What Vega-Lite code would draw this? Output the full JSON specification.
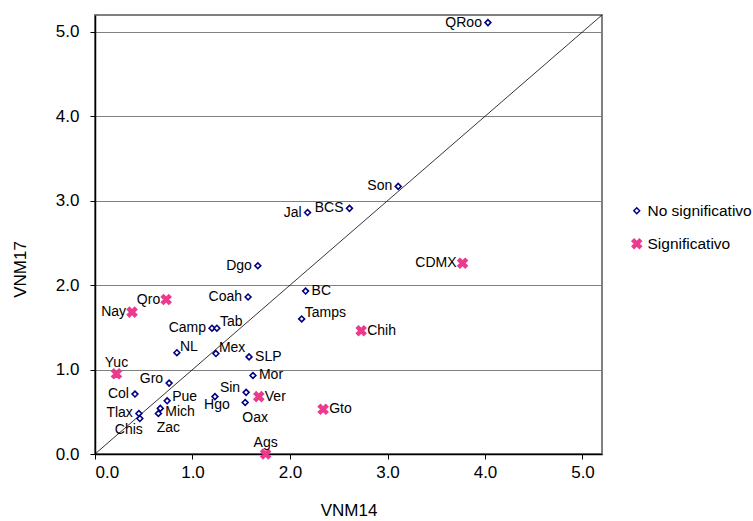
{
  "$schema": "https://vega.github.io/schema/vega-lite/v6.json",
  "width": 507,
  "height": 439,
  "autosize": "none",
  "padding": {"left": 95, "top": 15, "right": 151, "bottom": 67},
  "background": "white",
  "config": {
    "font": "Liberation Sans",
    "view": {"stroke": "#808080", "strokeWidth": 2},
    "axis": {
      "labelFont": "Liberation Sans",
      "labelFontSize": 17,
      "labelColor": "black",
      "titleFont": "Liberation Sans",
      "titleFontSize": 17,
      "titleFontWeight": "normal",
      "titleColor": "black",
      "domainColor": "black",
      "domainWidth": 1.5,
      "tickColor": "black",
      "tickSize": 5,
      "tickWidth": 1,
      "gridColor": "#808080",
      "gridWidth": 1
    }
  },
  "datasets": {
    "diag": [{"VNM14": 0, "VNM17": 0}, {"VNM14": 5.2, "VNM17": 5.2}],
    "estados": [
      {"estado": "QRoo", "VNM14": 4.03, "VNM17": 5.11, "tipo": "No significativo", "lado": "izq"},
      {"estado": "Son", "VNM14": 3.11, "VNM17": 3.17, "tipo": "No significativo", "lado": "izq"},
      {"estado": "BCS", "VNM14": 2.61, "VNM17": 2.91, "tipo": "No significativo", "lado": "izq"},
      {"estado": "Jal", "VNM14": 2.18, "VNM17": 2.86, "tipo": "No significativo", "lado": "izq"},
      {"estado": "CDMX", "VNM14": 3.77, "VNM17": 2.26, "tipo": "Significativo", "lado": "izq"},
      {"estado": "Dgo", "VNM14": 1.67, "VNM17": 2.23, "tipo": "No significativo", "lado": "izq"},
      {"estado": "BC", "VNM14": 2.16, "VNM17": 1.93, "tipo": "No significativo", "lado": "der"},
      {"estado": "Coah", "VNM14": 1.57, "VNM17": 1.86, "tipo": "No significativo", "lado": "izq"},
      {"estado": "Tamps", "VNM14": 2.12, "VNM17": 1.60, "tipo": "No significativo", "lado": "der-arriba"},
      {"estado": "Chih", "VNM14": 2.73, "VNM17": 1.46, "tipo": "Significativo", "lado": "der"},
      {"estado": "Qro", "VNM14": 0.73, "VNM17": 1.83, "tipo": "Significativo", "lado": "izq"},
      {"estado": "Nay", "VNM14": 0.38, "VNM17": 1.68, "tipo": "Significativo", "lado": "izq"},
      {"estado": "Camp", "VNM14": 1.20, "VNM17": 1.49, "tipo": "No significativo", "lado": "izq"},
      {"estado": "Tab", "VNM14": 1.25, "VNM17": 1.49, "tipo": "No significativo", "lado": "der-arriba"},
      {"estado": "NL", "VNM14": 0.84, "VNM17": 1.20, "tipo": "No significativo", "lado": "der-arriba"},
      {"estado": "Mex", "VNM14": 1.24, "VNM17": 1.19, "tipo": "No significativo", "lado": "der-arriba"},
      {"estado": "SLP", "VNM14": 1.58, "VNM17": 1.15, "tipo": "No significativo", "lado": "der"},
      {"estado": "Yuc", "VNM14": 0.22, "VNM17": 0.95, "tipo": "Significativo", "lado": "arriba"},
      {"estado": "Mor", "VNM14": 1.62, "VNM17": 0.93, "tipo": "No significativo", "lado": "der"},
      {"estado": "Gro", "VNM14": 0.76, "VNM17": 0.84, "tipo": "No significativo", "lado": "izq-arriba"},
      {"estado": "Col", "VNM14": 0.41, "VNM17": 0.71, "tipo": "No significativo", "lado": "izq"},
      {"estado": "Pue", "VNM14": 0.74, "VNM17": 0.63, "tipo": "No significativo", "lado": "der-arriba-leve"},
      {"estado": "Sin", "VNM14": 1.55, "VNM17": 0.73, "tipo": "No significativo", "lado": "izq-arriba"},
      {"estado": "Ver", "VNM14": 1.68, "VNM17": 0.68, "tipo": "Significativo", "lado": "der"},
      {"estado": "Hgo", "VNM14": 1.23, "VNM17": 0.68, "tipo": "No significativo", "lado": "abajo"},
      {"estado": "Oax", "VNM14": 1.54, "VNM17": 0.61, "tipo": "No significativo", "lado": "abajo-der"},
      {"estado": "Gto", "VNM14": 2.34, "VNM17": 0.53, "tipo": "Significativo", "lado": "der"},
      {"estado": "Mich", "VNM14": 0.67, "VNM17": 0.54, "tipo": "No significativo", "lado": "der-abajo"},
      {"estado": "Zac", "VNM14": 0.65, "VNM17": 0.48, "tipo": "No significativo", "lado": "abajo-der"},
      {"estado": "Tlax", "VNM14": 0.45, "VNM17": 0.48, "tipo": "No significativo", "lado": "izq"},
      {"estado": "Chis", "VNM14": 0.46, "VNM17": 0.42, "tipo": "No significativo", "lado": "abajo-izq"},
      {"estado": "Ags", "VNM14": 1.75, "VNM17": 0.0, "tipo": "Significativo", "lado": "arriba"}
    ]
  },
  "encoding": {
    "x": {
      "field": "VNM14", "type": "quantitative",
      "scale": {"domain": [0, 5.2], "nice": false, "zero": false},
      "axis": {"values": [0, 1, 2, 3, 4, 5], "format": ".1f", "grid": false, "labelPadding": 5, "titlePadding": 22, "title": "VNM14"}
    },
    "y": {
      "field": "VNM17", "type": "quantitative",
      "scale": {"domain": [0, 5.2], "nice": false, "zero": false},
      "axis": {"values": [0, 1, 2, 3, 4, 5], "format": ".1f", "grid": true, "labelPadding": 11, "title": "VNM17", "titleX": -75, "titleY": 254, "titleAlign": "center", "titleBaseline": "middle", "titleAngle": -90}
    }
  },
  "layer": [
    {
      "data": {"name": "diag"},
      "mark": {"type": "line", "color": "black", "strokeWidth": 0.8, "clip": true}
    },
    {
      "data": {"name": "estados"},
      "mark": {"type": "point", "filled": true, "strokeWidth": 1.6, "opacity": 1, "size": 34, "clip": false},
      "encoding": {
        "shape": {
          "field": "tipo", "type": "nominal",
          "scale": {"domain": ["No significativo", "Significativo"], "range": ["diamond", "M-1.6,-0.9L-0.9,-1.6L0,-0.7L0.9,-1.6L1.6,-0.9L0.7,0L1.6,0.9L0.9,1.6L0,0.7L-0.9,1.6L-1.6,0.9L-0.7,0Z"]},
          "legend": {"orient": "none", "legendX": 534, "legendY": 188, "title": null, "labelFont": "Liberation Sans", "labelFontSize": 15.5, "labelColor": "black", "symbolSize": 34, "symbolStrokeWidth": 1.5, "rowPadding": 16, "labelOffset": 3, "padding": 0, "labelLimit": 200}
        },
        "fill": {
          "field": "tipo", "type": "nominal",
          "scale": {"domain": ["No significativo", "Significativo"], "range": ["white", "#EC3A8E"]}
        },
        "stroke": {
          "field": "tipo", "type": "nominal",
          "scale": {"domain": ["No significativo", "Significativo"], "range": ["#000080", "#EC3A8E"]}
        }
      }
    },
    {
      "data": {"name": "estados"},
      "transform": [{"filter": "datum.lado === 'izq'"}],
      "mark": {"type": "text", "align": "right", "baseline": "middle", "dx": -6, "fontSize": 14, "font": "Liberation Sans", "color": "black"},
      "encoding": {"text": {"field": "estado"}}
    },
    {
      "data": {"name": "estados"},
      "transform": [{"filter": "datum.lado === 'der'"}],
      "mark": {"type": "text", "align": "left", "baseline": "middle", "dx": 6, "fontSize": 14, "font": "Liberation Sans", "color": "black"},
      "encoding": {"text": {"field": "estado"}}
    },
    {
      "data": {"name": "estados"},
      "transform": [{"filter": "datum.lado === 'der-arriba-leve'"}],
      "mark": {"type": "text", "align": "left", "baseline": "middle", "dx": 5, "dy": -4, "fontSize": 14, "font": "Liberation Sans", "color": "black"},
      "encoding": {"text": {"field": "estado"}}
    },
    {
      "data": {"name": "estados"},
      "transform": [{"filter": "datum.lado === 'der-abajo'"}],
      "mark": {"type": "text", "align": "left", "baseline": "middle", "dx": 5, "dy": 4, "fontSize": 14, "font": "Liberation Sans", "color": "black"},
      "encoding": {"text": {"field": "estado"}}
    },
    {
      "data": {"name": "estados"},
      "transform": [{"filter": "datum.lado === 'der-arriba'"}],
      "mark": {"type": "text", "align": "left", "baseline": "middle", "dx": 3, "dy": -6, "fontSize": 14, "font": "Liberation Sans", "color": "black"},
      "encoding": {"text": {"field": "estado"}}
    },
    {
      "data": {"name": "estados"},
      "transform": [{"filter": "datum.lado === 'izq-arriba'"}],
      "mark": {"type": "text", "align": "right", "baseline": "middle", "dx": -6, "dy": -4, "fontSize": 14, "font": "Liberation Sans", "color": "black"},
      "encoding": {"text": {"field": "estado"}}
    },
    {
      "data": {"name": "estados"},
      "transform": [{"filter": "datum.lado === 'arriba'"}],
      "mark": {"type": "text", "align": "center", "baseline": "middle", "dy": -11, "fontSize": 14, "font": "Liberation Sans", "color": "black"},
      "encoding": {"text": {"field": "estado"}}
    },
    {
      "data": {"name": "estados"},
      "transform": [{"filter": "datum.lado === 'abajo'"}],
      "mark": {"type": "text", "align": "center", "baseline": "middle", "dx": 2, "dy": 8, "fontSize": 14, "font": "Liberation Sans", "color": "black"},
      "encoding": {"text": {"field": "estado"}}
    },
    {
      "data": {"name": "estados"},
      "transform": [{"filter": "datum.lado === 'abajo-der'"}],
      "mark": {"type": "text", "align": "center", "baseline": "middle", "dx": 10, "dy": 15, "fontSize": 14, "font": "Liberation Sans", "color": "black"},
      "encoding": {"text": {"field": "estado"}}
    },
    {
      "data": {"name": "estados"},
      "transform": [{"filter": "datum.lado === 'abajo-izq'"}],
      "mark": {"type": "text", "align": "center", "baseline": "middle", "dx": -11, "dy": 11, "fontSize": 14, "font": "Liberation Sans", "color": "black"},
      "encoding": {"text": {"field": "estado"}}
    }
  ]
}
